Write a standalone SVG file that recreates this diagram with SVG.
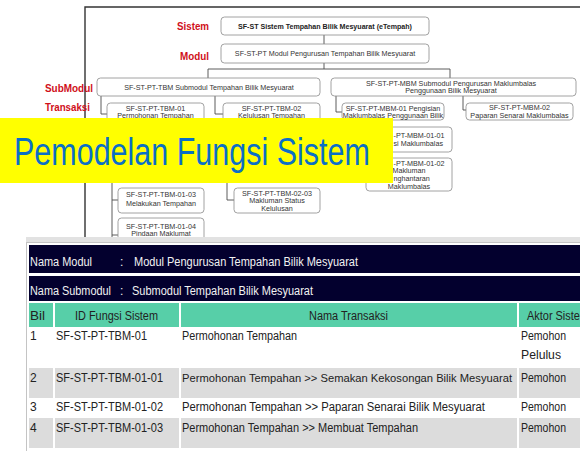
<svg xmlns="http://www.w3.org/2000/svg" width="580" height="451" viewBox="0 0 580 451">
<style>
.box{fill:#fff;stroke:#8a8a8a;stroke-width:0.8}
.t{font-family:"Liberation Sans",Arial,sans-serif;font-size:7.2px;fill:#333;text-anchor:middle}
.ts{font-family:"Liberation Sans",Arial,sans-serif;font-size:7.2px;fill:#333}
.tb{font-family:"Liberation Sans",Arial,sans-serif;font-size:7.1px;font-weight:bold;fill:#222;text-anchor:middle}
.lbl{font-family:"Liberation Sans",Arial,sans-serif;font-size:11.5px;font-weight:bold;fill:#d0101a}
.conn{fill:none;stroke:#4a4a4a;stroke-width:0.9}
.tt{font-family:"Liberation Sans",Arial,sans-serif;font-size:12px;fill:#222}
.tw{font-family:"Liberation Sans",Arial,sans-serif;font-size:12px;fill:#f2f2f2}
.navy{fill:#03002e}
.teal{fill:#57cfa8}
.grey{fill:#dcdcdc}
</style>
<rect width="580" height="451" fill="#fff"/>
<path d="M85 245 V7 H580" fill="none" stroke="#333" stroke-width="1.4"/>
<g id="labels">
<text class="lbl" x="177" y="30" textLength="32" lengthAdjust="spacingAndGlyphs">Sistem</text>
<text class="lbl" x="180" y="60" textLength="29" lengthAdjust="spacingAndGlyphs">Modul</text>
<text class="lbl" x="45" y="92" textLength="48" lengthAdjust="spacingAndGlyphs">SubModul</text>
<text class="lbl" x="45" y="111" textLength="45" lengthAdjust="spacingAndGlyphs">Transaksi</text>
</g>
<g id="connectors">
<path class="conn" d="M324 35 V44"/>
<path class="conn" d="M324 63 V69 M208 69 H450 M208 69 V78 M450 69 V78"/>
<path class="conn" d="M101 96 V114 H107"/>
<path class="conn" d="M215 96 V114 H223"/>
<path class="conn" d="M336 96 V112 H342"/>
<path class="conn" d="M463 96 V110 H466"/>
<path class="conn" d="M112 183 V245 M112 200 H118 M112 235 H118"/>
<path class="conn" d="M227 183 V200 H234"/>
</g>
<g id="n-sistem">
<rect class="box" x="221" y="17" width="208" height="18" rx="3.5"/>
<text class="tb" x="325" y="28.5">SF-ST Sistem Tempahan Bilik Mesyuarat (eTempah)</text>
</g>
<g id="n-modul">
<rect class="box" x="221" y="44" width="208" height="19" rx="3.5"/>
<text class="t" x="325" y="56">SF-ST-PT Modul Pengurusan Tempahan Bilik Mesyuarat</text>
</g>
<g id="n-tbm">
<rect class="box" x="97" y="78" width="223" height="18" rx="3.5"/>
<text class="t" x="209" y="89.5">SF-ST-PT-TBM Submodul Tempahan Bilik Mesyuarat</text>
</g>
<g id="n-mbm">
<rect class="box" x="331" y="78" width="245" height="18" rx="3.5"/>
<text class="t" x="451" y="85.5">SF-ST-PT-MBM Submodul Pengurusan Maklumbalas</text>
<text class="t" x="451" y="93">Penggunaan Bilik Mesyuarat</text>
</g>
<g id="n-tbm01">
<rect class="box" x="107" y="103" width="97" height="20" rx="3.5"/>
<text class="t" x="155.5" y="110.5">SF-ST-PT-TBM-01</text>
<text class="t" x="155.5" y="118">Permohonan Tempahan</text>
</g>
<g id="n-tbm02">
<rect class="box" x="223" y="103" width="97" height="20" rx="3.5"/>
<text class="t" x="271.5" y="110.5">SF-ST-PT-TBM-02</text>
<text class="t" x="271.5" y="118">Kelulusan Tempahan</text>
</g>
<g id="n-mbm01">
<rect class="box" x="342" y="103" width="102" height="17" rx="3.5"/>
<text class="t" x="393" y="110.5">SF-ST-PT-MBM-01 Pengisian</text>
<text class="t" x="393" y="118">Maklumbalas Penggunaan Bilik</text>
</g>
<g id="n-mbm02">
<rect class="box" x="466" y="103" width="107" height="17" rx="3.5"/>
<text class="t" x="519.5" y="110">SF-ST-PT-MBM-02</text>
<text class="t" x="519.5" y="117.6">Paparan Senarai Maklumbalas</text>
</g>
<g id="n-mbm0101">
<rect class="box" x="366" y="127" width="86" height="25" rx="3.5"/>
<text class="ts" x="393.5" y="138.3">-PT-MBM-01-01</text>
<text class="ts" x="393.5" y="146.3">si Maklumbalas</text>
</g>
<g id="n-mbm0102">
<rect class="box" x="366" y="158" width="86" height="33" rx="3.5"/>
<text class="ts" x="393.5" y="165.5">-PT-MBM-01-02</text>
<text class="t" x="409" y="173.3">Makluman</text>
<text class="ts" x="393.5" y="181">nghantaran</text>
<text class="t" x="409" y="188.5">Maklumbalas</text>
</g>
<g id="n-tbm0103">
<rect class="box" x="118" y="188" width="86" height="25" rx="3.5"/>
<text class="t" x="161" y="197">SF-ST-PT-TBM-01-03</text>
<text class="t" x="161" y="205.5">Melakukan Tempahan</text>
</g>
<g id="n-tbm0104">
<rect class="box" x="118" y="218" width="86" height="34" rx="3.5"/>
<text class="t" x="161" y="228.5">SF-ST-PT-TBM-01-04</text>
<text class="t" x="161" y="236">Pindaan Maklumat</text>
<text class="t" x="161" y="243.5">Tempahan</text>
</g>
<g id="n-tbm0203">
<rect class="box" x="234" y="188" width="86" height="25" rx="3.5"/>
<text class="t" x="277" y="195.5">SF-ST-PT-TBM-02-03</text>
<text class="t" x="277" y="203">Makluman Status</text>
<text class="t" x="277" y="210.5">Kelulusan</text>
</g>
<g id="banner">
<rect x="0" y="118" width="393" height="65" fill="#ffff00"/>
<text transform="translate(14 165) scale(0.782 1)" x="0" y="0" font-family="'Liberation Sans',Arial,sans-serif" font-size="39" fill="#0b6fc6" textLength="455" lengthAdjust="spacingAndGlyphs">Pemodelan Fungsi Sistem</text>
</g>
<rect x="26" y="237" width="554" height="6" fill="#e2e2e2"/>
<g id="table">
<rect x="26.5" y="242.5" width="560" height="215" fill="#fff" stroke="#c4c4c4"/>
<rect class="navy" x="29" y="245" width="560" height="28"/>
<text class="tw" x="30" y="265.5" textLength="62" lengthAdjust="spacingAndGlyphs">Nama Modul</text>
<text class="tw" x="120" y="265.5">:</text>
<text class="tw" x="134" y="265.5" textLength="224" lengthAdjust="spacingAndGlyphs">Modul Pengurusan Tempahan Bilik Mesyuarat</text>
<rect class="navy" x="29" y="276" width="560" height="25"/>
<text class="tw" x="30" y="295" textLength="81" lengthAdjust="spacingAndGlyphs">Nama Submodul</text>
<text class="tw" x="120" y="295">:</text>
<text class="tw" x="132" y="295" textLength="181" lengthAdjust="spacingAndGlyphs">Submodul Tempahan Bilik Mesyuarat</text>
<rect class="teal" x="29" y="303" width="24" height="24"/>
<rect class="teal" x="55" y="303" width="124" height="24"/>
<rect class="teal" x="181" y="303" width="336" height="24"/>
<rect class="teal" x="519" y="303" width="70" height="24"/>
<text class="tt" x="30" y="319.5" textLength="15" lengthAdjust="spacingAndGlyphs">Bil</text>
<text class="tt" x="75" y="319.5" textLength="83" lengthAdjust="spacingAndGlyphs">ID Fungsi Sistem</text>
<text class="tt" x="309" y="319.5" textLength="79" lengthAdjust="spacingAndGlyphs">Nama Transaksi</text>
<text class="tt" x="527" y="319.5" textLength="62" lengthAdjust="spacingAndGlyphs">Aktor Sistem</text>
<text class="tt" x="30" y="340">1</text>
<text class="tt" x="56" y="340" textLength="91" lengthAdjust="spacingAndGlyphs">SF-ST-PT-TBM-01</text>
<text class="tt" x="182" y="340" textLength="115" lengthAdjust="spacingAndGlyphs">Permohonan Tempahan</text>
<text class="tt" x="521" y="340" textLength="45" lengthAdjust="spacingAndGlyphs">Pemohon</text>
<text class="tt" x="521" y="359" textLength="40" lengthAdjust="spacingAndGlyphs">Pelulus</text>
<rect class="grey" x="29" y="368" width="24" height="30"/>
<rect class="grey" x="55" y="368" width="124" height="30"/>
<rect class="grey" x="181" y="368" width="336" height="30"/>
<rect class="grey" x="519" y="368" width="70" height="30"/>
<text class="tt" x="30" y="382">2</text>
<text class="tt" x="56" y="382" textLength="107" lengthAdjust="spacingAndGlyphs">SF-ST-PT-TBM-01-01</text>
<text class="tt" x="182" y="382" font-size="11" textLength="330" lengthAdjust="spacingAndGlyphs" style="font-size:11px">Permohonan Tempahan &gt;&gt; Semakan Kekosongan Bilik Mesyuarat</text>
<text class="tt" x="521" y="382" textLength="45" lengthAdjust="spacingAndGlyphs">Pemohon</text>
<text class="tt" x="30" y="411">3</text>
<text class="tt" x="56" y="411" textLength="107" lengthAdjust="spacingAndGlyphs">SF-ST-PT-TBM-01-02</text>
<text class="tt" x="182" y="411" textLength="303" lengthAdjust="spacingAndGlyphs">Permohonan Tempahan &gt;&gt; Paparan Senarai Bilik Mesyuarat</text>
<text class="tt" x="521" y="411" textLength="45" lengthAdjust="spacingAndGlyphs">Pemohon</text>
<rect class="grey" x="29" y="418" width="24" height="30"/>
<rect class="grey" x="55" y="418" width="124" height="30"/>
<rect class="grey" x="181" y="418" width="336" height="30"/>
<rect class="grey" x="519" y="418" width="70" height="30"/>
<text class="tt" x="30" y="432">4</text>
<text class="tt" x="56" y="432" textLength="107" lengthAdjust="spacingAndGlyphs">SF-ST-PT-TBM-01-03</text>
<text class="tt" x="182" y="432" textLength="236" lengthAdjust="spacingAndGlyphs">Permohonan Tempahan &gt;&gt; Membuat Tempahan</text>
<text class="tt" x="521" y="432" textLength="45" lengthAdjust="spacingAndGlyphs">Pemohon</text>
</g>
</svg>
